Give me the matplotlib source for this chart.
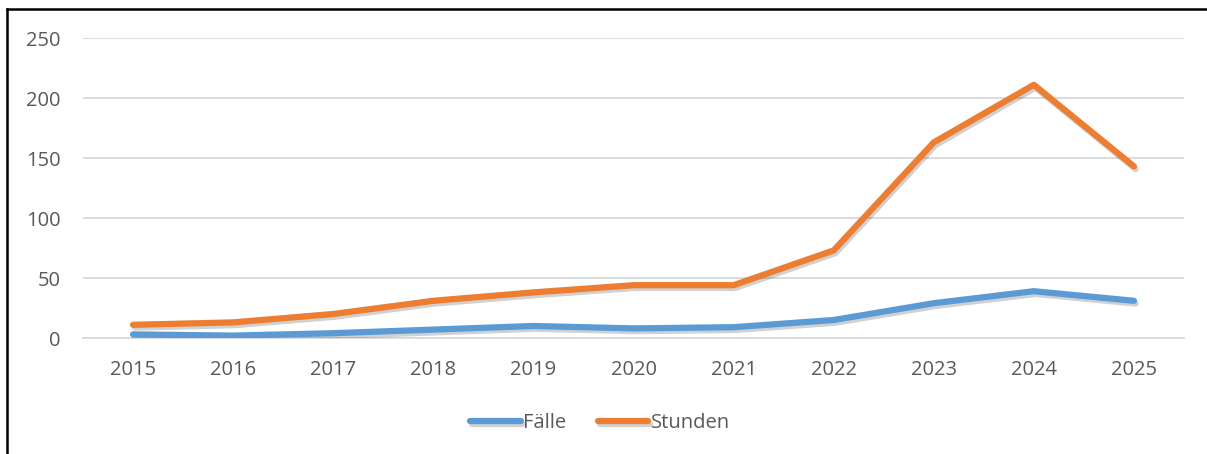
import matplotlib.pyplot as plt
import matplotlib.patheffects as pe
from matplotlib.lines import Line2D

plt.rcParams["font.family"] = ["Open Sans", "DejaVu Sans"]

# data
years = [2015, 2016, 2017, 2018, 2019, 2020, 2021, 2022, 2023, 2024, 2025]
faelle = [3, 2, 4, 7, 10, 8, 9, 15, 29, 39, 31]
stunden = [11, 13, 20, 31, 38, 44, 44, 73, 163, 211, 143]

c_blue = "#5B9BD5"
c_orange = "#ED7D31"
c_text = "#595959"
c_grid = "#D9D9D9"

W, H = 1207, 454
fig = plt.figure(figsize=(W / 100, H / 100), dpi=100)
ax = fig.add_axes([83 / W, 1 - 338 / H, 1101 / W, 300 / H])

shadow = [pe.SimpleLineShadow(offset=(1.2, -2.0), shadow_color="black", alpha=0.18),
          pe.Normal()]
l1, = ax.plot(years, faelle, color=c_blue, lw=4.5, solid_capstyle="round",
              solid_joinstyle="round", label="Fälle", path_effects=shadow, zorder=3)
l2, = ax.plot(years, stunden, color=c_orange, lw=4.5, solid_capstyle="round",
              solid_joinstyle="round", label="Stunden", path_effects=shadow, zorder=3)

ax.set_xlim(2014.5, 2025.5)
ax.set_ylim(0, 250)
ax.set_yticks(range(0, 251, 50))
ax.set_xticks(years)
ax.grid(axis="y", color=c_grid, lw=1.3)
ax.set_axisbelow(True)
for s in ["top", "right", "left"]:
    ax.spines[s].set_visible(False)
ax.spines["bottom"].set_color(c_grid)
ax.spines["bottom"].set_linewidth(1.3)
ax.tick_params(length=0, labelsize=14.5, colors=c_text)
ax.tick_params(axis="x", pad=16)
ax.tick_params(axis="y", pad=16)

fig.legend(handles=[l1, l2], loc="center", bbox_to_anchor=(600 / W, 1 - 423 / H),
           ncol=2, frameon=False, fontsize=14.5, labelcolor=c_text,
           handlelength=2.5, handletextpad=0.1, columnspacing=1.6)

# frame of the embedded chart
fig.add_artist(Line2D([7 / W, 7 / W], [0, 1 - 9 / H], color="black", lw=1.8,
                      transform=fig.transFigure))
fig.add_artist(Line2D([7 / W, 1], [1 - 9 / H, 1 - 9 / H], color="black", lw=1.8,
                      transform=fig.transFigure))

fig.savefig("out.png", dpi=100)
